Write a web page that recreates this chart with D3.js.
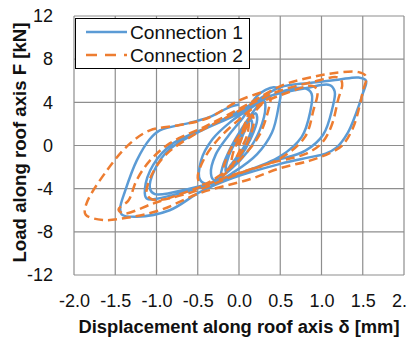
<!DOCTYPE html>
<html>
<head>
<meta charset="utf-8">
<script src="https://cdn.jsdelivr.net/npm/d3@7"></script>
<style>
    body { margin: 0; background: #fff; }
    svg { display: block; font-family: "Liberation Sans", Arial, sans-serif; }
</style>
</head>
<body>
<div id="chart"></div>
<script>
// Tick values
const xTicks = [-2, -1.5, -1, -0.5, 0, 0.5, 1, 1.5, 2];
const yTicks = [-12, -8, -4, 0, 4, 8, 12];

// Series names
const seriesNames = ["Connection 1", "Connection 2"];

// Connection 1 cycles, [displacement mm, load kN]
const conn1Cyc1 = [[0, 0], [0.06, 1.2], [0.14, 2.4], [0.16, 2.0], [0.1, 0.4], [0.0, -0.8], [-0.1, -1.8], [-0.16, -2.4], [-0.15, -1.6], [-0.08, -0.2], [0.02, 1.0], [0.12, 2.2], [0.2, 3.0], [0.22, 2.4], [0.14, 0.6], [0.02, -1.0], [-0.12, -2.2], [-0.22, -3.0], [-0.2, -2.0], [-0.1, -0.2]];
const conn1Cyc2 = [[0.02, 1.4], [0.2, 3.4], [0.3, 4.2], [0.32, 3.6], [0.25, 1.4], [0.1, -0.6], [-0.1, -2.2], [-0.3, -3.2], [-0.34, -2.6], [-0.28, -0.8], [-0.12, 1.0]];
const conn1Cyc3 = [[0.05, 2.6], [0.22, 4.6], [0.42, 5.4], [0.5, 5.1], [0.48, 3.6], [0.4, 1.2], [0.22, -0.8], [-0.05, -2.4], [-0.35, -3.6], [-0.47, -3.2], [-0.46, -1.4], [-0.32, 0.6], [-0.1, 2.2]];
const conn1Cyc4 = [[0.05, 3.0], [0.45, 4.8], [0.8, 5.3], [0.88, 4.8], [0.86, 3.0], [0.76, 0.8], [0.5, -1.0], [0.0, -2.6], [-0.6, -4.0], [-1.02, -4.5], [-1.08, -4.0], [-1.02, -2.2], [-0.85, -0.4], [-0.45, 1.4], [-0.05, 2.8]];
const conn1Cyc5 = [[0.3, 4.4], [0.8, 5.3], [1.1, 5.6], [1.16, 5.0], [1.13, 3.4], [1.02, 1.0], [0.8, -0.5], [0.4, -1.5], [-0.2, -3.2], [-0.8, -4.6], [-1.12, -4.9], [-1.14, -4.0], [-1.04, -1.8], [-0.8, 0.2], [-0.35, 1.8], [0.1, 3.6]];
const conn1Cyc6 = [[0.5, 5.4], [0.85, 5.8], [1.2, 6.1], [1.45, 6.3], [1.54, 6.0], [1.5, 4.8], [1.42, 3.0], [1.32, 1.2], [1.18, -0.2], [1.05, -0.75], [0.85, -1.1], [0.5, -1.7], [-0.07, -3.0], [-0.47, -4.3], [-0.84, -6.0], [-1.24, -6.6], [-1.42, -6.4], [-1.44, -5.8], [-1.38, -4.2], [-1.24, -1.4], [-1.08, 0.6], [-0.96, 1.4], [-0.6, 2.1], [-0.37, 2.6], [-0.1, 3.6], [0.0, 3.8]];

// Connection 2 cycles
const conn2Cyc1 = [[0, 0], [0.08, 1.6], [0.16, 2.8], [0.18, 2.2], [0.1, 0.2], [-0.02, -1.2], [-0.14, -2.4], [-0.2, -2.8], [-0.18, -1.8], [-0.08, 0], [0.04, 1.4], [0.12, 3.0], [0.1, 1.0], [0.0, -0.6], [-0.1, -2.0], [-0.06, -0.4], [0.02, 0.8]];
const conn2Cyc2 = [[0.1, 2.2], [0.3, 4.0], [0.38, 4.4], [0.36, 3.4], [0.25, 1.0], [0.05, -1.0], [-0.2, -2.6], [-0.45, -3.6], [-0.5, -3.0], [-0.42, -1.2], [-0.25, 0.6], [0.0, 2.4]];
const conn2Cyc3 = [[0.2, 3.6], [0.55, 4.8], [0.9, 5.5], [0.95, 5.0], [0.9, 3.2], [0.8, 0.8], [0.5, -1.2], [0.0, -2.6], [-0.6, -4.4], [-1.05, -5.0], [-1.12, -4.4], [-1.05, -2.6], [-0.88, -0.8], [-0.5, 1.2], [-0.1, 2.8]];
const conn2Cyc4 = [[0.4, 4.8], [0.9, 5.9], [1.2, 6.3], [1.25, 5.8], [1.2, 4.2], [1.12, 1.8], [1.0, 0.2], [0.8, -0.8], [0.4, -1.6], [-0.1, -2.8], [-0.6, -4.2], [-1.05, -5.4], [-1.4, -6.3], [-1.46, -5.9], [-1.34, -5.1], [-1.24, -3.2], [-1.08, -1.4], [-0.84, 0.2], [-0.4, 1.8], [0.1, 3.8]];
const conn2Cyc5 = [[0.53, 5.6], [0.86, 6.3], [1.14, 6.7], [1.45, 6.8], [1.54, 6.4], [1.5, 5.0], [1.46, 3.6], [1.38, 1.6], [1.25, 0.0], [1.1, -0.7], [0.86, -1.4], [0.5, -2.1], [0.14, -3.1], [-0.47, -4.4], [-0.96, -6.0], [-1.36, -6.7], [-1.65, -6.9], [-1.86, -6.4], [-1.85, -5.4], [-1.6, -2.3], [-1.32, 0.2], [-1.08, 1.4], [-0.72, 1.9], [-0.39, 2.5], [0.01, 4.2], [0.3, 5.0]];

const conn1 = [].concat(conn1Cyc1, conn1Cyc2, conn1Cyc3, conn1Cyc4, conn1Cyc5, conn1Cyc6);
const conn2 = [].concat(conn2Cyc1, conn2Cyc2, conn2Cyc3, conn2Cyc4, conn2Cyc5);

const WIDTH = 407;
const HEIGHT = 340;
const COLORS = ["#5B9BD5", "#ED7D31"];
const GRID = "#8e8e8e";

const svg = d3.select("#chart").append("svg")
    .attr("width", WIDTH)
    .attr("height", HEIGHT);

const x = d3.scaleLinear().domain([-2, 2]).range([74, 404]);
const y = d3.scaleLinear().domain([-12, 12]).range([275, 16]);

// plain hyphen minus, like the original tick labels
const hyphen = fmt => d => fmt(d).replace("\u2212", "-");

//Grid lines (outer ones form the plot border)
svg.append("g").selectAll("line").data(xTicks).join("line")
    .attr("x1", d => x(d)).attr("x2", d => x(d))
    .attr("y1", y(-12)).attr("y2", y(12))
    .attr("stroke", GRID).attr("stroke-width", 1.2);
svg.append("g").selectAll("line").data(yTicks).join("line")
    .attr("x1", x(-2)).attr("x2", x(2))
    .attr("y1", d => y(d)).attr("y2", d => y(d))
    .attr("stroke", GRID).attr("stroke-width", 1.2);

//Axes, labels only
const xAxis = svg.append("g")
    .attr("transform", `translate(0,${y(-12)})`)
    .call(d3.axisBottom(x).tickValues(xTicks).tickSize(0).tickPadding(19)
        .tickFormat(hyphen(d3.format(".1f"))));
const yAxis = svg.append("g")
    .attr("transform", `translate(${x(-2)},0)`)
    .call(d3.axisLeft(y).tickValues(yTicks).tickSize(0).tickPadding(21)
        .tickFormat(hyphen(d3.format("d"))));
[xAxis, yAxis].forEach(a => {
    a.select(".domain").remove();
    a.selectAll("text").attr("font-size", 18).attr("fill", "#111")
        .attr("font-family", "'Liberation Sans', Arial, sans-serif");
});

//Hysteresis curves
const line = d3.line()
    .x(d => x(d[0]))
    .y(d => y(d[1]))
    .curve(d3.curveCatmullRom.alpha(0.5));

svg.append("path").datum(conn1)
    .attr("d", line)
    .attr("fill", "none")
    .attr("stroke", COLORS[0])
    .attr("stroke-width", 2.5)
    .attr("stroke-linejoin", "round");

svg.append("path").datum(conn2)
    .attr("d", line)
    .attr("fill", "none")
    .attr("stroke", COLORS[1])
    .attr("stroke-width", 2.5)
    .attr("stroke-dasharray", "9,5");

//Axis titles
svg.append("text")
    .attr("x", x(0)).attr("y", 333)
    .attr("text-anchor", "middle")
    .attr("font-size", 18).attr("font-weight", "bold").attr("fill", "#111")
    .attr("textLength", 321).attr("lengthAdjust", "spacingAndGlyphs")
    .text("Displacement along roof axis δ [mm]");

svg.append("text")
    .attr("transform", `translate(26,${y(0) - 3}) rotate(-90)`)
    .attr("text-anchor", "middle")
    .attr("font-size", 18).attr("font-weight", "bold").attr("fill", "#111")
    .attr("textLength", 240).attr("lengthAdjust", "spacingAndGlyphs")
    .text("Load along roof axis F [kN]");

//Legend
const legend = svg.append("g");
legend.append("rect")
    .attr("x", 75.5).attr("y", 18.5)
    .attr("width", 174).attr("height", 50)
    .attr("fill", "#fff").attr("stroke", "#000").attr("stroke-width", 1);

seriesNames.forEach((name, i) => {
    const cy = 32 + i * 23;
    legend.append("line")
        .attr("x1", 86).attr("x2", 127)
        .attr("y1", cy).attr("y2", cy)
        .attr("stroke", COLORS[i]).attr("stroke-width", 2.5)
        .attr("stroke-dasharray", i ? "11,8" : null);
    legend.append("text")
        .attr("x", 130).attr("y", cy + 6.5)
        .attr("font-size", 19).attr("fill", "#111")
        .attr("textLength", 113).attr("lengthAdjust", "spacingAndGlyphs")
        .text(name);
});
</script>
</body>
</html>
